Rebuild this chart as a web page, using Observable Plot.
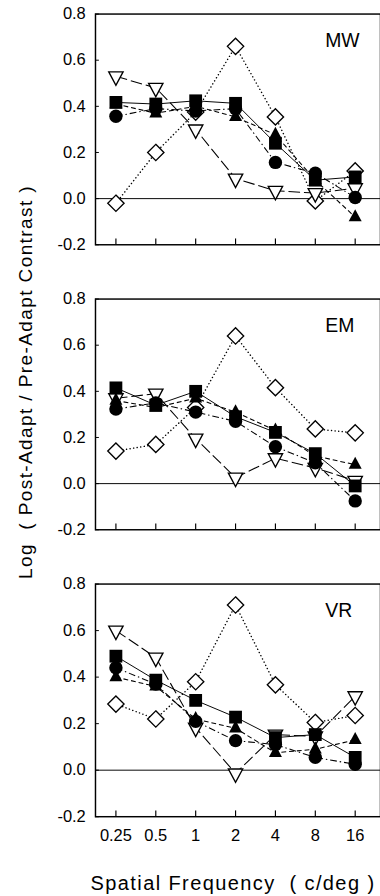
<!DOCTYPE html>
<html><head><meta charset="utf-8">
<script src="https://cdn.jsdelivr.net/npm/d3@7"></script>
<script src="https://cdn.jsdelivr.net/npm/@observablehq/plot@0.6"></script>
<style>
html,body{margin:0;padding:0;background:#fff;}
#wrap{position:relative;width:380px;height:896px;overflow:hidden;font-family:"Liberation Sans",Arial,sans-serif;color:#000;background:#fff;}
.panel{position:absolute;left:0;}
#ylab{position:absolute;left:26px;top:382px;transform:translate(-50%,-50%) rotate(-90deg);white-space:pre;font-size:19px;letter-spacing:1.4px;}
#xlab{position:absolute;left:233px;top:883px;transform:translate(-50%,-50%);white-space:pre;font-size:20px;letter-spacing:1.4px;}
</style></head><body><div id="wrap"></div>
<script>
// ---- data ----
const freqs = [0.25, 0.5, 1, 2, 4, 8, 16];
const yTicks = [-0.2, 0, 0.2, 0.4, 0.6, 0.8];
const panelNames = ["MW", "EM", "VR"];
const seriesNames = ["square", "triangle", "circle", "diamond", "invTriangle"];

const mwSquare   = [0.417, 0.41, 0.424, 0.413, 0.24, 0.08, 0.094];
const mwTriangle = [0.41, 0.37, 0.40, 0.354, 0.277, 0.08, -0.08];
const mwCircle   = [0.357, 0.39, 0.38, 0.39, 0.157, 0.11, 0.005];
const mwDiamond  = [-0.02, 0.20, 0.375, 0.66, 0.354, -0.01, 0.12];
const mwInvTri   = [0.53, 0.48, 0.30, 0.087, 0.034, 0.024, 0.045];

const emSquare   = [0.415, 0.34, 0.40, 0.29, 0.222, 0.13, -0.01];
const emTriangle = [0.36, 0.33, 0.37, 0.31, 0.23, 0.12, 0.082];
const emCircle   = [0.323, 0.35, 0.31, 0.27, 0.16, 0.09, -0.075];
const emDiamond  = [0.141, 0.17, 0.33, 0.64, 0.416, 0.237, 0.22];
const emInvTri   = [0.37, 0.39, 0.195, 0.026, 0.11, 0.068, 0.012];

const vrSquare   = [0.49, 0.387, 0.30, 0.228, 0.14, 0.153, 0.055];
const vrTriangle = [0.40, 0.36, 0.22, 0.18, 0.075, 0.09, 0.13];
const vrCircle   = [0.44, 0.37, 0.21, 0.127, 0.11, 0.055, 0.025];
const vrDiamond  = [0.284, 0.22, 0.38, 0.71, 0.367, 0.205, 0.235];
const vrInvTri   = [0.60, 0.484, 0.183, -0.014, 0.153, 0.145, 0.318];

const panelValues = {
  MW: [mwSquare, mwTriangle, mwCircle, mwDiamond, mwInvTri],
  EM: [emSquare, emTriangle, emCircle, emDiamond, emInvTri],
  VR: [vrSquare, vrTriangle, vrCircle, vrDiamond, vrInvTri]
};

// ---- symbols ----
const symSquare = {draw(c){ const h = 6.6; c.rect(-h, -h, 2*h, 2*h); }};
const symCircle = {draw(c){ const r = 6.9; c.moveTo(r, 0); c.arc(0, 0, r, 0, 2*Math.PI); }};
const symTriangle = {draw(c){ c.moveTo(0, -8.2); c.lineTo(6.7, 4.3); c.lineTo(-6.7, 4.3); c.closePath(); }};
const symDiamond = {draw(c){ const d = 8.4; c.moveTo(0, -d); c.lineTo(d, 0); c.lineTo(0, d); c.lineTo(-d, 0); c.closePath(); }};
const symInvTri = {draw(c){ c.moveTo(-7.4, -4.6); c.lineTo(7.4, -4.6); c.lineTo(0, 9.2); c.closePath(); }};

const styles = {
  square:      {symbol: symSquare,   fill: "black", stroke: "none", dash: null, lw: 1.0, cap: "butt"},
  triangle:    {symbol: symTriangle, fill: "black", stroke: "none", dash: "5,3", lw: 1.1, cap: "butt"},
  circle:      {symbol: symCircle,   fill: "black", stroke: "none", dash: "7,3,1.5,3", lw: 1.1, cap: "butt"},
  diamond:     {symbol: symDiamond,  fill: "white", stroke: "black", dash: "0.1,3.6", lw: 1.5, cap: "round"},
  invTriangle: {symbol: symInvTri,   fill: "white", stroke: "black", dash: "12,4", lw: 1.1, cap: "butt"}
};

const FONT = "Liberation Sans, Arial, sans-serif";
const W = 392;
const xDomain = [0.25 * Math.pow(2, -21/41), 16 * Math.pow(2, 26/41)];

function makePanel(name, plotH, marginBottom, showLabels) {
  const vals = panelValues[name];
  const rows = [];
  seriesNames.forEach((s, i) => freqs.forEach((f, j) => rows.push({panel: name, series: s, f, v: vals[i][j]})));
  const marks = [
    Plot.frame({stroke: "black", strokeWidth: 1.5}),
    Plot.ruleY([0], {stroke: "black", strokeWidth: 1}),
    Plot.tickX(freqs, {x: d => d, stroke: "black", strokeWidth: 1.2, insetTop: plotH - 6})
  ];
  for (const s of seriesNames) {
    const st = styles[s];
    marks.push(Plot.line(rows.filter(d => d.series === s), {
      x: "f", y: "v", stroke: "black", strokeWidth: st.lw,
      strokeDasharray: st.dash, strokeLinecap: st.cap
    }));
  }
  for (const s of ["diamond", "invTriangle", "circle", "triangle", "square"]) {
    const st = styles[s];
    marks.push(Plot.dot(rows.filter(d => d.series === s), {
      x: "f", y: "v", r: 7, symbol: st.symbol, fill: st.fill,
      stroke: st.stroke, strokeWidth: st.stroke === "none" ? 0 : 1.4
    }));
  }
  marks.push(
    Plot.axisY({ticks: yTicks, tickSize: 0, tickPadding: 10, tickFormat: d => d.toFixed(1), label: null, fontSize: 17}),
    Plot.axisY({ticks: yTicks, tickSize: 4, dx: 4, tickFormat: () => "", label: null}),
    Plot.text([name], {text: d => d, frameAnchor: "top-left", dx: 237, dy: 28, textAnchor: "start", lineAnchor: "middle", fontSize: 20})
  );
  if (showLabels) {
    marks.push(Plot.text(freqs, {x: d => d, text: d => String(d), frameAnchor: "bottom", dy: 13,
      lineAnchor: "top", fontSize: 17}));
  }
  return Plot.plot({
    width: W,
    height: 14 + plotH + marginBottom,
    marginTop: 14, marginBottom, marginLeft: 98, marginRight: 0,
    style: {fontFamily: FONT, fontSize: "17px", background: "white", color: "black", overflow: "visible"},
    x: {type: "log", domain: xDomain, axis: null},
    y: {domain: [-0.2, 0.8]},
    marks
  });
}

const wrap = document.getElementById("wrap");
const layout = [
  {name: "MW", top: 0,   h: 238, mb: 4,  labels: false},
  {name: "EM", top: 285, h: 238, mb: 4,  labels: false},
  {name: "VR", top: 570, h: 240, mb: 72, labels: true}
];
for (const p of layout) {
  const div = document.createElement("div");
  div.className = "panel";
  div.style.top = p.top + "px";
  div.appendChild(makePanel(p.name, p.h, p.mb, p.labels));
  wrap.appendChild(div);
}
const yl = document.createElement("div");
yl.id = "ylab";
yl.textContent = "Log  ( Post-Adapt / Pre-Adapt Contrast )";
wrap.appendChild(yl);
const xl = document.createElement("div");
xl.id = "xlab";
xl.textContent = "Spatial Frequency  ( c/deg )";
wrap.appendChild(xl);
</script>
</body></html>
